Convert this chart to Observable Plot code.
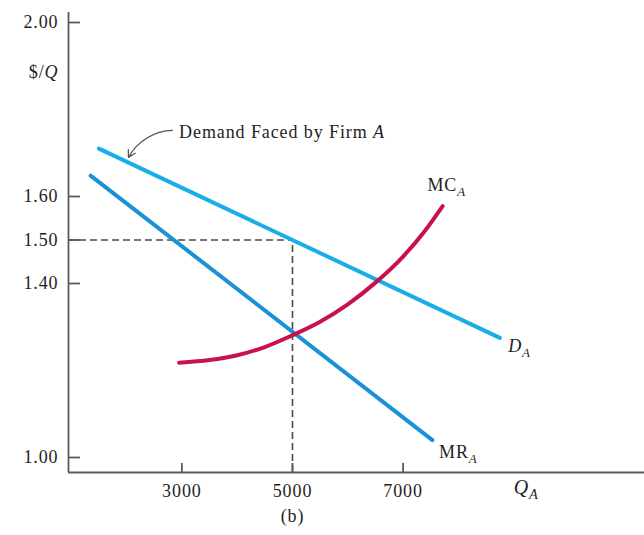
<!DOCTYPE html>
<html>
<head>
<meta charset="utf-8">
<script src="https://cdn.jsdelivr.net/npm/d3@7"></script>
<script src="https://cdn.jsdelivr.net/npm/@observablehq/plot@0.6"></script>
<style>
  html, body { margin: 0; padding: 0; background: white; }
  #chart { width: 644px; height: 535px; }
</style>
</head>
<body>
<div id="chart"></div>
<script>
// ---- data ----
const qTicks = [3000, 5000, 7000];
const pTicks = [1.00, 1.40, 1.50, 1.60, 2.00];
const qDomain = [950, 11365];
const pDomain = [0.9655, 2.023];

const demandQ = [1500, 8750];
const demandP = [1.71, 1.275];
const mrQ = [1350, 7530];
const mrP = [1.648, 1.04];
const mcQ = [2950, 3500, 4000, 4500, 5000, 5500, 6000, 6500, 7000, 7400, 7715];
const mcP = [1.218, 1.224, 1.235, 1.254, 1.281, 1.312, 1.352, 1.402, 1.462, 1.522, 1.578];

const eqQ = 5000;
const eqP = 1.50;

const curveLabels = ["*D*_A", "MR_A", "MC_A"];
const curveLabelQ = [8900, 7650, 7440];
const curveLabelP = [1.255, 1.011, 1.625];

const annotText = "Demand Faced by Firm *A*";
const annotQ = 2950, annotP = 1.747;
const arrowFrom = [2830, 1.752];
const arrowTo = [2035, 1.69];

const yLabel = "$/*Q*";
const yLabelP = 1.885;
const xLabel = "*Q*_A";
const xLabelQ = 9000;
const panelLabel = "(b)";

// ---- build tables ----
const demand = demandQ.map((q, i) => ({q, p: demandP[i]}));
const mr = mrQ.map((q, i) => ({q, p: mrP[i]}));
const mc = mcQ.map((q, i) => ({q, p: mcP[i]}));
const labels = curveLabels.map((t, i) => ({t, q: curveLabelQ[i], p: curveLabelP[i]}));

const axisColor = "#5a5a5a";
const textColor = "#1e1e1e";
const font = "'Liberation Serif', 'Times New Roman', serif";
const fs = 18;

const chart = Plot.plot({
  width: 644,
  height: 535,
  marginLeft: 68,
  marginRight: 0,
  marginTop: 12,
  marginBottom: 63,
  style: {fontFamily: font, fontSize: fs + "px", background: "white", color: textColor, letterSpacing: "0.9px"},
  x: {domain: qDomain},
  y: {domain: pDomain},
  marks: [
    // dashed guides
    Plot.ruleY([eqP], {x1: qDomain[0], x2: eqQ, stroke: "#4a4a4a", strokeWidth: 1.6, strokeDasharray: "7,4"}),
    Plot.ruleX([eqQ], {y1: pDomain[0], y2: eqP, stroke: "#4a4a4a", strokeWidth: 1.6, strokeDasharray: "7,4"}),
    // curves
    Plot.line(demand, {x: "q", y: "p", stroke: "#1aaee8", strokeWidth: 4}),
    Plot.line(mr, {x: "q", y: "p", stroke: "#1a92d5", strokeWidth: 4}),
    Plot.line(mc, {x: "q", y: "p", stroke: "#c8124e", strokeWidth: 4, curve: "monotone-x"}),
    // axes lines
    Plot.ruleX([qDomain[0]], {stroke: axisColor, strokeWidth: 1.8}),
    Plot.ruleY([pDomain[0]], {stroke: axisColor, strokeWidth: 1.8}),
    // y axis
    Plot.axisY(pTicks, {tickSize: 0, tickPadding: 10, tickFormat: ".2f", fill: textColor, label: null}),
    Plot.axisY(pTicks, {tickSize: -12, text: null, stroke: axisColor, strokeWidth: 1.8, label: null}),
    // x axis
    Plot.axisX(qTicks, {tickSize: 0, tickPadding: 12, tickFormat: "d", fill: textColor, label: null}),
    Plot.axisX(qTicks, {tickSize: -9, text: null, stroke: axisColor, strokeWidth: 1.8, label: null}),
    // curve labels
    Plot.text(labels, {x: "q", y: "p", text: "t", textAnchor: "start", fill: textColor, fontSize: fs}),
    // annotation
    Plot.text([annotText], {x: annotQ, y: annotP, text: d => d, textAnchor: "start", fill: textColor, fontSize: fs}),
    Plot.arrow([0], {x1: arrowFrom[0], y1: arrowFrom[1], x2: arrowTo[0], y2: arrowTo[1], bend: -30, stroke: "#555", strokeWidth: 1.3, headLength: 9}),
    // axis titles
    Plot.text([yLabel], {x: qDomain[0], y: yLabelP, text: d => d, textAnchor: "end", dx: -10, fill: textColor, fontSize: fs}),
    Plot.text([xLabel], {x: xLabelQ, frameAnchor: "bottom", dy: 21, text: d => d, textAnchor: "start", fill: textColor, fontSize: 20}),
    Plot.text([panelLabel], {x: eqQ, frameAnchor: "bottom", dy: 49, text: d => d, fill: textColor, fontSize: fs})
  ]
});

// rich text: *x* italic, _X subscript italic
chart.querySelectorAll("text").forEach(el => {
  const s = el.textContent;
  if (!/[*_]/.test(s)) return;
  let [main, sub] = s.split("_");
  el.textContent = "";
  const parts = main.split("*");
  parts.forEach((part, i) => {
    if (!part) return;
    const ts = document.createElementNS("http://www.w3.org/2000/svg", "tspan");
    if (i % 2 === 1) ts.setAttribute("font-style", "italic");
    ts.textContent = part;
    el.appendChild(ts);
  });
  if (sub) {
    const ts = document.createElementNS("http://www.w3.org/2000/svg", "tspan");
    ts.setAttribute("font-style", "italic");
    ts.setAttribute("font-size", "0.72em");
    ts.setAttribute("dy", "0.35em");
    ts.textContent = sub;
    el.appendChild(ts);
  }
});

document.getElementById("chart").appendChild(chart);
</script>
</body>
</html>
